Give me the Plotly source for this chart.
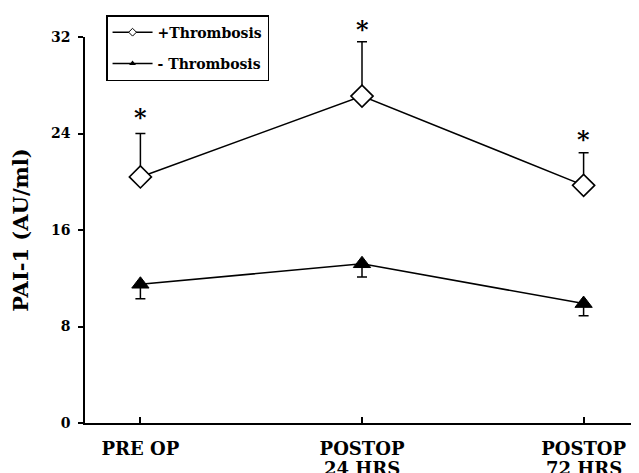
import plotly.graph_objects as go

categories = ["PRE OP", "POSTOP", "POSTOP"]
categories_line2 = ["", "24 HRS", "72 HRS"]
thromb_mean = [20.4, 27.1, 19.7]
thromb_err = [3.6, 4.5, 2.7]
no_thromb_mean = [11.5, 13.2, 9.9]
no_thromb_err = [1.2, 1.1, 1.0]
star_y = [25.3, 32.6, 23.5]
y_ticks = [0, 8, 16, 24, 32]
Y_RANGE = [0, 32]

xpos = list(range(len(categories)))
FONT = "DejaVu Serif"

fig = go.Figure()

fig.add_trace(go.Scatter(
    x=xpos, y=thromb_mean, mode="lines+markers",
    line=dict(color="black", width=1.6),
    marker=dict(symbol="diamond", size=17, color="white",
                line=dict(color="black", width=1.6)),
    error_y=dict(type="data", symmetric=False, array=thromb_err,
                 arrayminus=[0] * 3, color="black", thickness=1.5, width=5),
    showlegend=False,
))
fig.add_trace(go.Scatter(
    x=xpos, y=no_thromb_mean, mode="lines+markers",
    line=dict(color="black", width=1.6),
    marker=dict(symbol="triangle-up", size=15, color="black",
                line=dict(color="black", width=1)),
    error_y=dict(type="data", symmetric=False, array=[0] * 3,
                 arrayminus=no_thromb_err, color="black", thickness=1.5, width=5),
    showlegend=False,
))

# significance asterisks (paper y so ones above the axis top still show)
for xi, yi in zip(xpos, star_y):
    fig.add_annotation(
        x=xi, y=(yi - Y_RANGE[0]) / (Y_RANGE[1] - Y_RANGE[0]),
        xref="x", yref="paper", text="*", showarrow=False,
        xanchor="center", yanchor="middle",
        font=dict(family=FONT, size=24, color="black", weight="bold"),
    )

# legend entries
fig.add_trace(go.Scatter(
    x=[None], y=[None], mode="lines+markers", name="+Thrombosis",
    legendgroup="a",
    line=dict(color="black", width=1.5),
    marker=dict(symbol="diamond", size=6, color="white",
                line=dict(color="black", width=1)),
))
fig.add_trace(go.Scatter(
    x=[None], y=[None], mode="lines+markers", name="- Thrombosis",
    legendgroup="b",
    line=dict(color="black", width=1.5),
    marker=dict(symbol="triangle-up", size=6, color="black"),
))

for i, txt in enumerate(categories_line2):
    if txt:
        fig.add_annotation(
            x=xpos[i], y=0, xref="x", yref="paper", text=txt,
            showarrow=False, yanchor="middle", yshift=-45,
            font=dict(family=FONT, size=18, color="black", weight="bold"),
        )

fig.update_layout(
    width=639, height=473,
    margin=dict(l=77, r=8, t=28, b=58),
    paper_bgcolor="white", plot_bgcolor="white",
    font=dict(family=FONT, color="black"),
    legend=dict(
        x=0.038, y=1.054, xanchor="left", yanchor="top",
        bordercolor="black", borderwidth=1.5,
        font=dict(family=FONT, size=14, color="black", weight="bold"),
        tracegroupgap=10, itemwidth=40,
    ),
    xaxis=dict(
        range=[-0.25, 2.25], tickvals=xpos, ticktext=categories,
        showline=True, linecolor="black", linewidth=2,
        ticks="inside", ticklen=6, tickcolor="black", tickwidth=1.5,
        ticklabelstandoff=8,
        showgrid=False, zeroline=False, automargin=False,
        tickfont=dict(family=FONT, size=18, color="black", weight="bold"),
    ),
    yaxis=dict(
        range=Y_RANGE, tickvals=y_ticks,
        showline=True, linecolor="black", linewidth=1.6,
        ticks="outside", ticklen=5, tickcolor="black", tickwidth=1.5,
        ticklabelstandoff=5,
        showgrid=False, zeroline=False, automargin=False,
        tickfont=dict(family=FONT, size=14, color="black", weight="bold"),
        title=dict(text="PAI-1 (AU/ml)", standoff=22,
                   font=dict(family=FONT, size=21, color="black", weight="bold")),
    ),
)

fig.write_html("out.html")
